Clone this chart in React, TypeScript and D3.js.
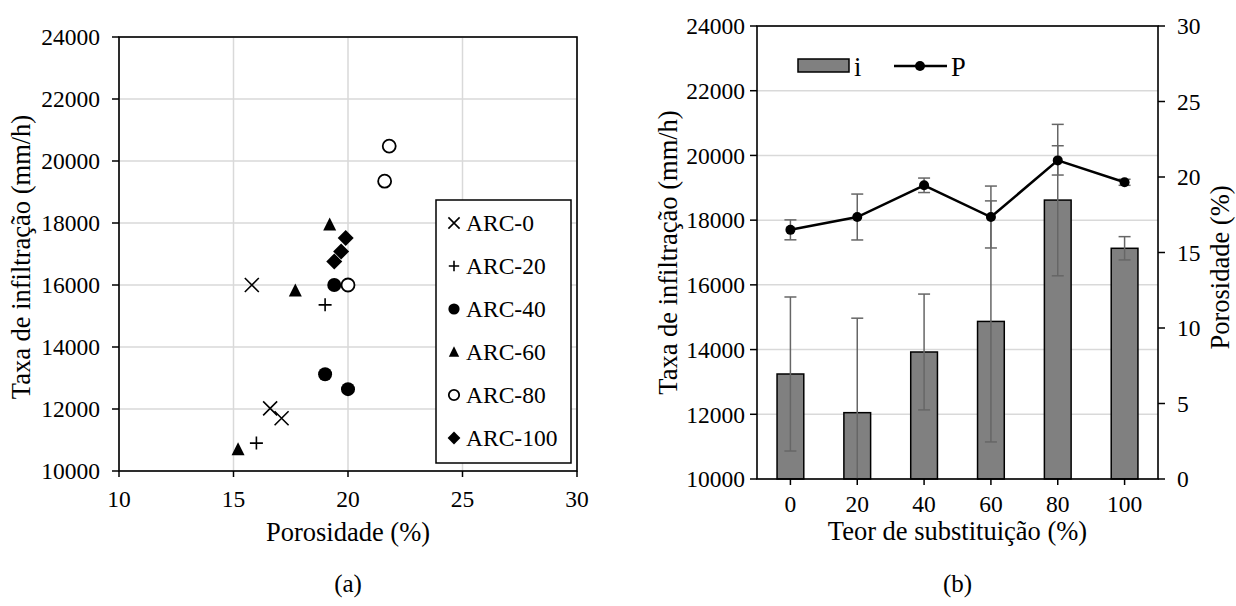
import React from "react";
import * as d3 from "d3";

// ---------- Data: chart (a) ----------
const arc0: [number, number][] = [[15.8, 16000], [16.6, 12020], [17.1, 11700]];
const arc20: [number, number][] = [[19.0, 15360], [16.0, 10900]];
const arc40: [number, number][] = [[19.4, 16000], [19.0, 13120], [20.0, 12640]];
const arc60: [number, number][] = [[19.2, 17950], [17.7, 15820], [15.2, 10700]];
const arc80: [number, number][] = [[21.8, 20480], [21.6, 19350], [20.0, 16000]];
const arc100: [number, number][] = [[19.9, 17520], [19.7, 17080], [19.4, 16760]];
const seriesNames = ["ARC-0", "ARC-20", "ARC-40", "ARC-60", "ARC-80", "ARC-100"];
const seriesShapes = ["x", "plus", "circle", "triangle", "ocircle", "diamond"];
const seriesData = [arc0, arc20, arc40, arc60, arc80, arc100];
const xTicksA = [10, 15, 20, 25, 30];
const yTicks = [10000, 12000, 14000, 16000, 18000, 20000, 22000, 24000];

// ---------- Data: chart (b) ----------
const categories = ["0", "20", "40", "60", "80", "100"];
const infiltration = [13245, 12050, 13925, 14870, 18620, 17130];
const infiltrationErr = [2380, 2920, 1790, 3725, 2340, 360];
const porosity = [16.5, 17.35, 19.45, 17.35, 21.1, 19.65];
const porosityErr = [0.66, 1.52, 0.48, 2.05, 0.97, 0.2];
const yTicksRight = [0, 5, 10, 15, 20, 25, 30];

const FONT = "'Liberation Serif', 'Times New Roman', serif";
const FS = 23.5; // tick labels
const FT = 26.5; // axis titles
const GRID = "#d9d9d9";

function marker(shape: string, cx: number, cy: number, key: string | number, scale = 1) {
  const s = scale;
  switch (shape) {
    case "x": {
      const r = 7 * s;
      return (
        <path key={key} d={`M${cx - r},${cy - r}L${cx + r},${cy + r}M${cx - r},${cy + r}L${cx + r},${cy - r}`}
          stroke="#000" strokeWidth={1.6} fill="none" />
      );
    }
    case "plus": {
      const r = 6.5 * s;
      return (
        <path key={key} d={`M${cx - r},${cy}L${cx + r},${cy}M${cx},${cy - r}L${cx},${cy + r}`}
          stroke="#000" strokeWidth={1.6} fill="none" />
      );
    }
    case "circle":
      return <circle key={key} cx={cx} cy={cy} r={7 * s} fill="#000" />;
    case "ocircle":
      return <circle key={key} cx={cx} cy={cy} r={6.5 * s} fill="#fff" stroke="#000" strokeWidth={1.8} />;
    case "triangle": {
      const h = 13 * s, w = 13 * s;
      return (
        <path key={key} d={`M${cx},${cy - h * 0.55}L${cx + w / 2},${cy + h * 0.45}L${cx - w / 2},${cy + h * 0.45}Z`} fill="#000" />
      );
    }
    case "diamond": {
      const r = 8 * s;
      return <path key={key} d={`M${cx},${cy - r}L${cx + r},${cy}L${cx},${cy + r}L${cx - r},${cy}Z`} fill="#000" />;
    }
  }
  return null;
}

function ChartA() {
  const x = d3.scaleLinear().domain([10, 30]).range([119, 577]);
  const y = d3.scaleLinear().domain([10000, 24000]).range([471, 37]);
  const [x0, x1] = x.range();
  const [yb, yt] = y.range();
  return (
    <g>
      {yTicks.map((t) => (
        <line key={"gy" + t} x1={x0} x2={x1} y1={y(t)} y2={y(t)} stroke={GRID} strokeWidth={1.5} />
      ))}
      {xTicksA.map((t) => (
        <line key={"gx" + t} x1={x(t)} x2={x(t)} y1={yb} y2={yt} stroke={GRID} strokeWidth={1.5} />
      ))}
      <rect x={x0} y={yt} width={x1 - x0} height={yb - yt} fill="none" stroke="#000" strokeWidth={1.6} />
      {yTicks.map((t) => (
        <g key={"ty" + t}>
          <line x1={x0 - 7} x2={x0} y1={y(t)} y2={y(t)} stroke="#000" strokeWidth={1.5} />
          <text x={x0 - 19} y={y(t)} dy="0.35em" textAnchor="end" fontFamily={FONT} fontSize={FS}>{t}</text>
        </g>
      ))}
      {xTicksA.map((t) => (
        <g key={"tx" + t}>
          <line x1={x(t)} x2={x(t)} y1={yb} y2={yb + 6} stroke="#000" strokeWidth={1.5} />
          <text x={x(t)} y={yb + 28} dy="0.35em" textAnchor="middle" fontFamily={FONT} fontSize={FS}>{t}</text>
        </g>
      ))}
      {seriesData.map((ser, si) =>
        ser.map((p, i) => marker(seriesShapes[si], x(p[0]), y(p[1]), `m${si}-${i}`))
      )}
      <rect x={436} y={200} width={135} height={263} fill="#fff" stroke="#000" strokeWidth={1.5} />
      {seriesNames.map((n, i) => {
        const cy = 223 + i * 43;
        return (
          <g key={"lg" + n}>
            {marker(seriesShapes[i], 454, cy, "lm" + i, 0.8)}
            <text x={466} y={cy} dy="0.35em" fontFamily={FONT} fontSize={FS}>{n}</text>
          </g>
        );
      })}
      <text x={(x0 + x1) / 2} y={yb + 61} dy="0.35em" textAnchor="middle" fontFamily={FONT} fontSize={FT}>Porosidade (%)</text>
      <text transform={`translate(21,${(yb + yt) / 2 + 3}) rotate(-90)`} dy="0.35em" textAnchor="middle" fontFamily={FONT} fontSize={FT}>Taxa de infiltração (mm/h)</text>
      <text x={(x0 + x1) / 2} y={583} dy="0.35em" textAnchor="middle" fontFamily={FONT} fontSize={25}>(a)</text>
    </g>
  );
}

function ChartB() {
  const x = d3.scaleBand().domain(categories).range([757, 1158]).paddingInner(0.6).paddingOuter(0.3);
  const y = d3.scaleLinear().domain([10000, 24000]).range([479, 26]);
  const yr = d3.scaleLinear().domain([0, 30]).range([479, 26]);
  const [x0, x1] = x.range();
  const [yb, yt] = y.range();
  const bw = x.bandwidth();
  const cx = (c: string) => (x(c) as number) + bw / 2;
  const line = d3.line<number>().x((_, i) => cx(categories[i])).y((d) => yr(d));
  const ERR = "#666";
  return (
    <g>
      {yTicks.map((t) => (
        <line key={"gy" + t} x1={x0} x2={x1} y1={y(t)} y2={y(t)} stroke={GRID} strokeWidth={1.5} />
      ))}
      {categories.map((c, i) => {
        const v = infiltration[i];
        return (
          <rect key={"b" + c} x={x(c)} y={y(v)} width={bw} height={yb - y(v)} fill="#808080" stroke="#000" strokeWidth={1.5} />
        );
      })}
      {categories.map((c, i) => {
        const hi = infiltration[i] + infiltrationErr[i];
        const lo = infiltration[i] - infiltrationErr[i];
        const loC = Math.max(lo, 10000);
        const px = cx(c);
        return (
          <g key={"e" + c} stroke={ERR} strokeWidth={1.5}>
            <line x1={px} x2={px} y1={y(hi)} y2={y(loC)} />
            <line x1={px - 6} x2={px + 6} y1={y(hi)} y2={y(hi)} />
            {lo >= 10000 && <line x1={px - 6} x2={px + 6} y1={y(lo)} y2={y(lo)} />}
          </g>
        );
      })}
      {categories.map((c, i) => {
        const hi = porosity[i] + porosityErr[i];
        const lo = porosity[i] - porosityErr[i];
        const px = cx(c);
        return (
          <g key={"pe" + c} stroke={ERR} strokeWidth={1.5}>
            <line x1={px} x2={px} y1={yr(hi)} y2={yr(lo)} />
            <line x1={px - 6} x2={px + 6} y1={yr(hi)} y2={yr(hi)} />
            <line x1={px - 6} x2={px + 6} y1={yr(lo)} y2={yr(lo)} />
          </g>
        );
      })}
      <path d={line(porosity) || ""} fill="none" stroke="#000" strokeWidth={2.5} />
      {porosity.map((p, i) => (
        <circle key={"pd" + i} cx={cx(categories[i])} cy={yr(p)} r={5} fill="#000" />
      ))}
      <rect x={x0} y={yt} width={x1 - x0} height={yb - yt} fill="none" stroke="#000" strokeWidth={1.6} />
      {yTicks.map((t) => (
        <g key={"ty" + t}>
          <line x1={x0 - 7} x2={x0} y1={y(t)} y2={y(t)} stroke="#000" strokeWidth={1.5} />
          <text x={x0 - 12} y={y(t)} dy="0.35em" textAnchor="end" fontFamily={FONT} fontSize={FS}>{t}</text>
        </g>
      ))}
      {yTicksRight.map((t) => (
        <g key={"tr" + t}>
          <line x1={x1} x2={x1 + 7} y1={yr(t)} y2={yr(t)} stroke="#000" strokeWidth={1.5} />
          <text x={x1 + 19} y={yr(t)} dy="0.35em" textAnchor="start" fontFamily={FONT} fontSize={FS}>{t}</text>
        </g>
      ))}
      {categories.map((c) => (
        <g key={"tx" + c}>
          <line x1={cx(c)} x2={cx(c)} y1={yb} y2={yb + 6} stroke="#000" strokeWidth={1.5} />
          <text x={cx(c)} y={yb + 25} dy="0.35em" textAnchor="middle" fontFamily={FONT} fontSize={FS}>{c}</text>
        </g>
      ))}
      <text x={(x0 + x1) / 2} y={yb + 52} dy="0.35em" textAnchor="middle" fontFamily={FONT} fontSize={FT}>Teor de substituição (%)</text>
      <text transform={`translate(668,${(yb + yt) / 2}) rotate(-90)`} dy="0.35em" textAnchor="middle" fontFamily={FONT} fontSize={FT}>Taxa de infiltração (mm/h)</text>
      <text transform={`translate(1220,${(yb + yt) / 2 + 15}) rotate(-90)`} dy="0.35em" textAnchor="middle" fontFamily={FONT} fontSize={FT}>Porosidade (%)</text>
      <text x={(x0 + x1) / 2} y={583} dy="0.35em" textAnchor="middle" fontFamily={FONT} fontSize={25}>(b)</text>
      {/* legend */}
      <rect x={798} y={59} width={51} height={13} fill="#808080" stroke="#000" strokeWidth={1.5} />
      <text x={854} y={67} dy="0.35em" fontFamily={FONT} fontSize={FT}>i</text>
      <line x1={894} x2={947} y1={66} y2={66} stroke="#000" strokeWidth={2.5} />
      <circle cx={920} cy={66} r={5} fill="#000" />
      <text x={951} y={67} dy="0.35em" fontFamily={FONT} fontSize={FT}>P</text>
    </g>
  );
}

export default function App() {
  return (
    <svg width={1236} height={606} style={{ position: "absolute", left: 0, top: 0, background: "#fff" }}>
      <rect x={0} y={0} width={1236} height={606} fill="#fff" />
      <ChartA />
      <ChartB />
    </svg>
  );
}
